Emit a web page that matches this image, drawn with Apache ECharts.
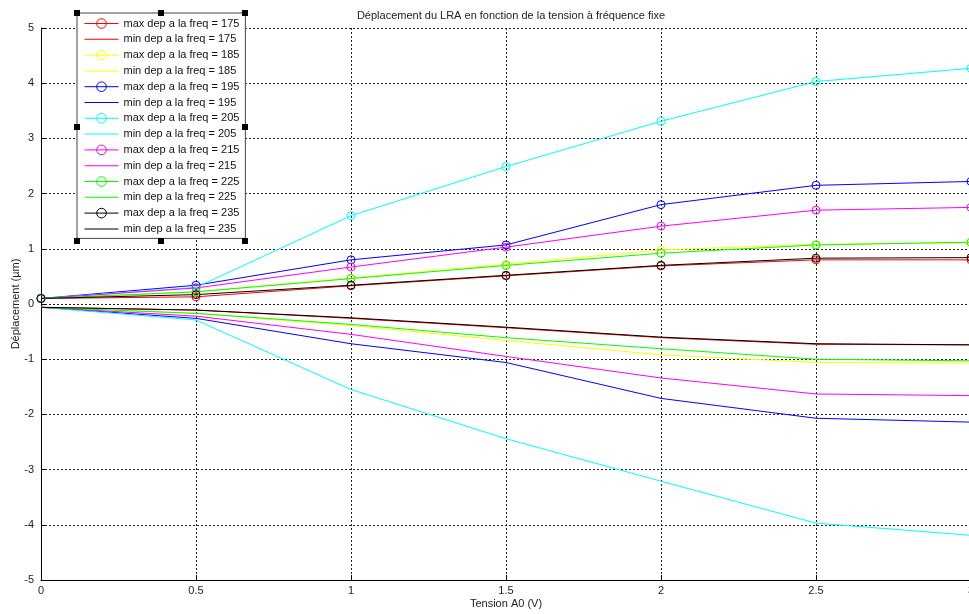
<html>
    <head>
        <meta charset="utf-8">
        <script src="https://cdn.jsdelivr.net/npm/echarts@6/dist/echarts.min.js"></script>
        <style>
            html, body { margin: 0; padding: 0; background: #fff; }
            #main { width: 969px; height: 614px; }
        </style>
    </head>
    <body>
        <div id="main"></div>
        <script>
            // tension (V)
            var tension = [0, 0.5, 1, 1.5, 2, 2.5, 3];

            var max175 = [0.10, 0.13, 0.33, 0.51, 0.69, 0.80, 0.80];
            var min175 = [-0.06, -0.11, -0.26, -0.43, -0.61, -0.73, -0.74];
            var max185 = [0.10, 0.22, 0.47, 0.72, 0.98, 1.08, 1.11];
            var min185 = [-0.06, -0.17, -0.39, -0.66, -0.92, -1.06, -1.07];
            var max195 = [0.10, 0.34, 0.80, 1.07, 1.80, 2.15, 2.22];
            var min195 = [-0.06, -0.26, -0.72, -1.06, -1.71, -2.07, -2.14];
            var max205 = [0.10, 0.30, 1.60, 2.49, 3.31, 4.03, 4.27];
            var min205 = [-0.06, -0.29, -1.55, -2.44, -3.21, -3.97, -4.19];
            var max215 = [0.10, 0.29, 0.67, 1.03, 1.41, 1.70, 1.75];
            var min215 = [-0.06, -0.22, -0.55, -0.95, -1.34, -1.63, -1.66];
            var max225 = [0.10, 0.22, 0.46, 0.70, 0.92, 1.07, 1.12];
            var min225 = [-0.06, -0.17, -0.37, -0.61, -0.81, -1.00, -1.03];
            var max235 = [0.10, 0.17, 0.34, 0.52, 0.70, 0.83, 0.84];
            var min235 = [-0.06, -0.11, -0.25, -0.42, -0.60, -0.72, -0.74];

            var freqs = [175, 185, 195, 205, 215, 225, 235];
            var couleurs = ['#ff0000', '#ffff00', '#0000ff', '#00ffff', '#ff00ff', '#00ff00', '#000000'];
            var maxData = [max175, max185, max195, max205, max215, max225, max235];
            var minData = [min175, min185, min195, min205, min215, min225, min235];

            var font = 'Arial, "Liberation Sans", sans-serif';

            function pts(arr) {
                return arr.map(function (v, i) { return [tension[i], v]; });
            }

            var series = [];
            var legendData = [];
            freqs.forEach(function (f, k) {
                var nMax = 'max dep a la freq = ' + f;
                var nMin = 'min dep a la freq = ' + f;
                series.push({
                    name: nMax,
                    type: 'line',
                    data: pts(maxData[k]),
                    symbol: 'circle',
                    symbolSize: 8,
                    color: couleurs[k],
                    lineStyle: { width: 1, color: couleurs[k] },
                    itemStyle: { color: 'rgba(255,255,255,0)', borderColor: couleurs[k], borderWidth: 1 }
                });
                series.push({
                    name: nMin,
                    type: 'line',
                    data: pts(minData[k]),
                    symbol: 'none',
                    color: couleurs[k],
                    lineStyle: { width: 1, color: couleurs[k] }
                });
                legendData.push({
                    name: nMax,
                    lineStyle: { width: 1, color: couleurs[k] },
                    itemStyle: { color: 'rgba(255,255,255,0)', borderColor: couleurs[k], borderWidth: 1 }
                });
                legendData.push({ name: nMin, icon: 'path://M0,0h34v1h-34z' });
            });

            // poignées de sélection autour de la légende
            var handles = [];
            [[77, 13], [161, 13], [245, 13], [77, 127], [245, 127], [77, 241], [161, 241], [245, 241]].forEach(function (p) {
                handles.push({
                    type: 'rect',
                    z: 100,
                    shape: { x: p[0] - 3, y: p[1] - 3, width: 6, height: 6 },
                    style: { fill: '#000' }
                });
            });

            var chart = echarts.init(document.getElementById('main'));
            chart.setOption({
                animation: false,
                title: {
                    text: 'Déplacement du LRA en fonction de la tension à fréquence fixe',
                    left: 506,
                    textAlign: 'center',
                    top: 5,
                    textStyle: { fontSize: 11, fontWeight: 'normal', color: '#222', fontFamily: font }
                },
                legend: {
                    data: legendData,
                    orient: 'vertical',
                    left: 77,
                    top: 13,
                    padding: [5, 6, 4, 7],
                    itemWidth: 34,
                    itemHeight: 12,
                    itemGap: 4.8,
                    backgroundColor: '#fff',
                    borderColor: '#444',
                    borderWidth: 1,
                    borderRadius: 0,
                    selectedMode: false,
                    textStyle: { fontSize: 11, color: '#111', fontFamily: font }
                },
                grid: { left: 41, right: -2, top: 28, bottom: 34, outerBoundsMode: 'none', containLabel: false },
                xAxis: {
                    type: 'value',
                    min: 0,
                    max: 3,
                    interval: 0.5,
                    name: 'Tension A0 (V)',
                    nameLocation: 'middle',
                    nameGap: 18,
                    nameMoveOverlap: false,
                    nameTextStyle: { fontSize: 11, color: '#222', fontFamily: font },
                    axisLine: { onZero: false, lineStyle: { color: '#000', width: 1 } },
                    axisTick: { inside: true, length: 5, lineStyle: { color: '#000' } },
                    axisLabel: { fontSize: 11, color: '#222', fontFamily: font, margin: 5 },
                    splitLine: { show: true, lineStyle: { color: '#222', type: [2, 2], width: 1 } }
                },
                yAxis: {
                    type: 'value',
                    min: -5,
                    max: 5,
                    interval: 1,
                    name: 'Déplacement (µm)',
                    nameLocation: 'middle',
                    nameGap: 20,
                    nameMoveOverlap: false,
                    nameTextStyle: { fontSize: 11, color: '#222', fontFamily: font },
                    axisLine: { show: true, lineStyle: { color: '#000', width: 1 } },
                    axisTick: { show: true, inside: true, length: 5, lineStyle: { color: '#000' } },
                    axisLabel: { fontSize: 11, color: '#222', fontFamily: font, margin: 7 },
                    splitLine: { show: true, lineStyle: { color: '#222', type: [2, 2], width: 1 } }
                },
                graphic: handles,
                series: series
            });
        </script>
    </body>
</html>
